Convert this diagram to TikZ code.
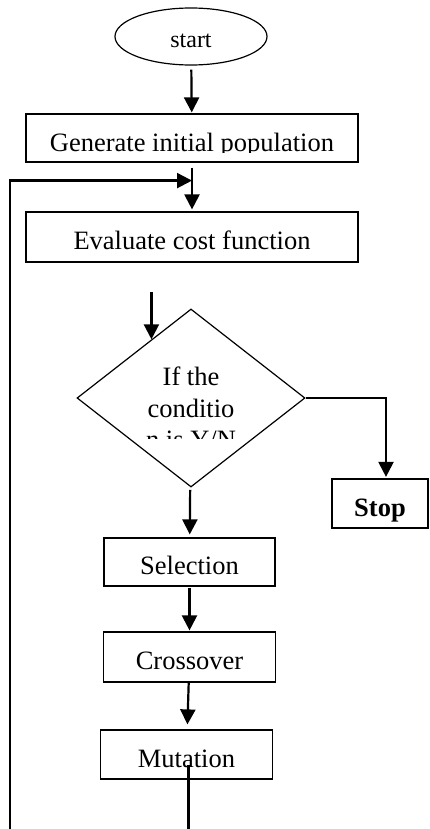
\documentclass[tikz,border=0pt]{standalone}
\usepackage{fontspec}
\setmainfont{Liberation Serif}
\usetikzlibrary{arrows.meta}
\usetikzlibrary{shapes.geometric}
\usetikzlibrary{positioning}
\tikzset{
  terminal/.style={ellipse, draw, line width=1.2pt, inner sep=0pt,
    minimum width=152pt, minimum height=57pt,
    text height=23pt, text depth=0pt,
    font=\fontsize{24pt}{29pt}\selectfont},
  process/.style={rectangle, draw, line width=1.2pt, inner sep=0pt,
    text height=25pt, text depth=0pt,
    font=\fontsize{26.5pt}{31.7pt}\selectfont},
  decision/.style={diamond, draw, line width=1.2pt, inner sep=0pt,
    minimum width=228pt, minimum height=178pt},
  decisiontext/.style={align=center, inner sep=0pt,
    font=\fontsize{26.5pt}{31.7pt}\selectfont},
  flow/.style={line width=2.2pt}
}

\begin{document}
\begin{tikzpicture}[>={Triangle[length=15pt,width=15pt]},
      node distance=100pt,
      on grid]

    \useasboundingbox (0,0) rectangle (429pt,-829pt);

    \node[terminal]
      (Start) at (191pt,-36.5pt) {start};
    \node[process, minimum width=332pt, minimum height=48pt]
      (Generate) [below=101.5pt of Start, xshift=1pt] {};
    \node[process, minimum width=332pt, minimum height=50pt]
      (Evaluate) [below=99pt of Generate] {Evaluate cost function};
    \node[decision]
      (Decision) [below=161pt of Evaluate, xshift=-1pt] {};
    \node[process, minimum width=96pt, minimum height=49pt, font=\fontsize{26.5pt}{31.7pt}\selectfont\bfseries]
      (Stop) [below right=105.5pt and 189pt of Decision] {Stop};
    \node[process, minimum width=171pt, minimum height=48pt]
      (Selection) [below=164pt of Decision, xshift=-1.5pt] {Selection};
    \node[process, minimum width=172pt, minimum height=50pt]
      (Crossover) [below=95pt of Selection] {Crossover};
    \node[process, minimum width=172pt, minimum height=49pt]
      (Mutation) [below=97.5pt of Crossover, xshift=-3pt] {Mutation};

    % texts cut off by their shapes
    \begin{scope}
      \clip (Generate.north west) rectangle ([yshift=10pt]Generate.south east);
      \node[anchor=base, inner sep=0pt, font=\fontsize{26.5pt}{31.7pt}\selectfont]
        (GenerateText) at ([yshift=-13.5pt]Generate.center) {Generate initial population};
    \end{scope}
    \begin{scope}
      \clip ([yshift=-40pt]Decision.west) rectangle (Decision.north -| Decision.east);
      \node[decisiontext]
        (DecisionText) at ([yshift=-10pt]Decision.center) {If the\\conditio\\n is Y/N};
    \end{scope}

    \coordinate (Merge) at ([yshift=-18pt]Generate.south);
    \coordinate (LoopBottom) at (10pt,-829pt);
    \coordinate (Entry) at ([yshift=47pt]Decision.124.6);
    \coordinate (MutationOut) at ([xshift=2pt,yshift=-10.5pt]Mutation.center);
    \coordinate (MutationEnd) at (MutationOut |- LoopBottom);

    \path[->, flow]
      (Start) edge [shorten <=4pt, shorten >=1pt] (Generate)
      (Generate) edge [shorten <=5pt, shorten >=2pt] (Evaluate)
      (Entry) edge (Decision.124.6)
      (Decision) edge [shorten <=3pt, shorten >=3pt] (Selection)
      (Selection) edge [shorten <=1pt, shorten >=1pt] (Crossover)
      (Crossover) edge [shorten >=5pt] (Mutation);

    \draw[->, flow, shorten >=1.5pt] (Decision.east) -| ([xshift=6pt]Stop.north);
    \draw[->, flow] (LoopBottom) |- (Merge);
    \draw[flow] (MutationOut) -- (MutationEnd);

  \end{tikzpicture}
\end{document}
